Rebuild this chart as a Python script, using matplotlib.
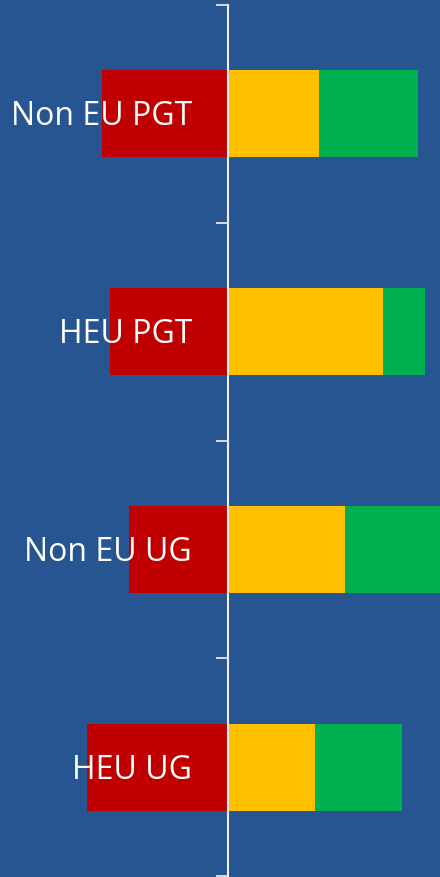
import matplotlib
matplotlib.use("Agg")
import matplotlib.pyplot as plt
import numpy as np

categories = ["Non EU PGT", "HEU PGT", "Non EU UG", "HEU UG"]
negative = [40, 37.4, 31.4, 44.7]   # red, plotted to the left
neutral = [28.8, 49.1, 37.1, 27.6]  # yellow
positive = [31.4, 13.3, 31.5, 27.6]  # green

bg = "#265592"
fig = plt.figure(figsize=(4.40, 8.77), dpi=100, facecolor=bg)
ax = fig.add_axes([0, 1/877, 1, 871/877])
ax.set_facecolor(bg)

y = np.arange(len(categories))
h = 0.4
neg = np.array(negative)
neu = np.array(neutral)
pos = np.array(positive)
ax.barh(y, -neg, height=h, color="#C00000", linewidth=0)
ax.barh(y, neu, height=h, color="#FFC000", linewidth=0)
ax.barh(y, pos, left=neu, height=h, color="#00B050", linewidth=0)

ax.set_xlim(-228/3.155, 212/3.155)
ax.set_ylim(len(categories) - 0.5, -0.5)

for yi, c in zip(y, categories):
    ax.text(-36/3.155, yi + 0.053, c, ha="right", va="baseline", color="white",
            fontsize=23, family=["Open Sans", "DejaVu Sans"])

for s in ["top", "right", "bottom"]:
    ax.spines[s].set_visible(False)
ax.spines["left"].set_position(("data", 0))
ax.spines["left"].set_color("#f0f0f0")
ax.spines["left"].set_linewidth(1.5)
ax.set_xticks([])
ax.set_yticks(np.arange(-0.5, len(categories), 1.0))
ax.set_yticklabels([])
ax.tick_params(axis="y", direction="out", length=9, width=1.2, color="#f0f0f0")

fig.savefig("out.png", dpi=100, facecolor=bg)
